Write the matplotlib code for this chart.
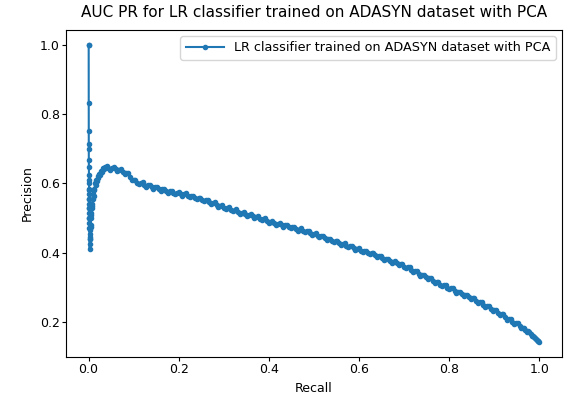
import matplotlib.pyplot as plt

# steep part of the curve at very low recall
spike_recall = [0.0, 0.0003, 0.0003, 0.0004, 0.0005, 0.0006, 0.0006, 0.0007, 0.0008, 0.0009,
                0.0010, 0.0011, 0.0012, 0.0012, 0.0013, 0.0014, 0.0015, 0.0015, 0.0016, 0.0017,
                0.0018, 0.0019, 0.0020, 0.0021, 0.0022, 0.0023, 0.0024, 0.0025, 0.0028, 0.0032,
                0.0036, 0.0040, 0.0045, 0.0050, 0.0055, 0.0060, 0.0065, 0.0070, 0.0076, 0.0082,
                0.0090, 0.0100, 0.0110, 0.0120, 0.0130, 0.0145, 0.0160, 0.0175, 0.0190, 0.0205,
                0.0220, 0.0240, 0.0260, 0.0280, 0.0300, 0.0320, 0.0340, 0.0360]
spike_precision = [1.0, 1.0, 0.833, 0.75, 0.714, 0.70, 0.667, 0.647, 0.625, 0.61,
                   0.60, 0.585, 0.57, 0.58, 0.555, 0.54, 0.555, 0.53, 0.515, 0.53,
                   0.50, 0.485, 0.50, 0.47, 0.455, 0.47, 0.44, 0.41, 0.425, 0.445,
                   0.44, 0.465, 0.48, 0.475, 0.50, 0.515, 0.51, 0.53, 0.54, 0.535,
                   0.555, 0.57, 0.565, 0.585, 0.58, 0.60, 0.595, 0.61, 0.607, 0.62,
                   0.616, 0.628, 0.625, 0.636, 0.634, 0.645, 0.641, 0.648]

# main body of the curve
curve_recall = [0.040, 0.044, 0.048, 0.052, 0.056, 0.060, 0.064, 0.068, 0.072, 0.076,
                0.080, 0.084, 0.088, 0.092, 0.096, 0.100, 0.104, 0.108, 0.112, 0.116,
                0.120, 0.124, 0.128, 0.132, 0.136, 0.140, 0.144, 0.148, 0.152, 0.156,
                0.160, 0.164, 0.168, 0.172, 0.176, 0.180, 0.184, 0.188, 0.192, 0.196,
                0.200, 0.204, 0.208, 0.212, 0.216, 0.220, 0.224, 0.228, 0.232, 0.236,
                0.240, 0.244, 0.248, 0.252, 0.256, 0.260, 0.264, 0.268, 0.272, 0.276,
                0.280, 0.284, 0.288, 0.292, 0.296, 0.300, 0.304, 0.308, 0.312, 0.316,
                0.320, 0.324, 0.328, 0.332, 0.336, 0.340, 0.344, 0.348, 0.352, 0.356,
                0.360, 0.364, 0.368, 0.372, 0.376, 0.380, 0.384, 0.388, 0.392, 0.396,
                0.400, 0.404, 0.408, 0.412, 0.416, 0.420, 0.424, 0.428, 0.432, 0.436,
                0.440, 0.444, 0.448, 0.452, 0.456, 0.460, 0.464, 0.468, 0.472, 0.476,
                0.480, 0.484, 0.488, 0.492, 0.496, 0.500, 0.504, 0.508, 0.512, 0.516,
                0.520, 0.524, 0.528, 0.532, 0.536, 0.540, 0.544, 0.548, 0.552, 0.556,
                0.560, 0.564, 0.568, 0.572, 0.576, 0.580, 0.584, 0.588, 0.592, 0.596,
                0.600, 0.604, 0.608, 0.612, 0.616, 0.620, 0.624, 0.628, 0.632, 0.636,
                0.640, 0.644, 0.648, 0.652, 0.656, 0.660, 0.664, 0.668, 0.672, 0.676,
                0.680, 0.684, 0.688, 0.692, 0.696, 0.700, 0.704, 0.708, 0.712, 0.716,
                0.720, 0.724, 0.728, 0.732, 0.736, 0.740, 0.744, 0.748, 0.752, 0.756,
                0.760, 0.764, 0.768, 0.772, 0.776, 0.780, 0.784, 0.788, 0.792, 0.796,
                0.800, 0.804, 0.808, 0.812, 0.816, 0.820, 0.824, 0.828, 0.832, 0.836,
                0.840, 0.844, 0.848, 0.852, 0.856, 0.860, 0.864, 0.868, 0.872, 0.876,
                0.880, 0.884, 0.888, 0.892, 0.896, 0.900, 0.904, 0.908, 0.912, 0.916,
                0.920, 0.924, 0.928, 0.932, 0.936, 0.940, 0.944, 0.948, 0.952, 0.956,
                0.960, 0.963, 0.966, 0.969, 0.972, 0.975, 0.978, 0.981, 0.984, 0.986,
                0.988, 0.990, 0.992, 0.994, 0.996, 0.998, 1.000]
curve_precision = [0.650, 0.644, 0.640, 0.645, 0.646, 0.641, 0.637, 0.640, 0.641, 0.633,
                   0.628, 0.631, 0.630, 0.619, 0.610, 0.611, 0.610, 0.602, 0.598, 0.602,
                   0.603, 0.595, 0.591, 0.594, 0.596, 0.589, 0.585, 0.589, 0.590, 0.583,
                   0.579, 0.583, 0.584, 0.577, 0.573, 0.577, 0.578, 0.572, 0.569, 0.573,
                   0.575, 0.569, 0.565, 0.569, 0.571, 0.565, 0.561, 0.564, 0.565, 0.558,
                   0.554, 0.557, 0.558, 0.552, 0.548, 0.551, 0.552, 0.545, 0.541, 0.544,
                   0.545, 0.538, 0.533, 0.536, 0.537, 0.530, 0.526, 0.529, 0.531, 0.524,
                   0.520, 0.523, 0.525, 0.518, 0.513, 0.516, 0.518, 0.511, 0.507, 0.510,
                   0.512, 0.505, 0.501, 0.504, 0.505, 0.498, 0.494, 0.497, 0.499, 0.491,
                   0.487, 0.490, 0.491, 0.485, 0.481, 0.484, 0.486, 0.479, 0.475, 0.479,
                   0.481, 0.474, 0.470, 0.473, 0.475, 0.468, 0.464, 0.467, 0.470, 0.463,
                   0.459, 0.462, 0.463, 0.456, 0.451, 0.454, 0.456, 0.449, 0.444, 0.447,
                   0.449, 0.442, 0.437, 0.440, 0.441, 0.434, 0.430, 0.433, 0.434, 0.427,
                   0.423, 0.426, 0.427, 0.420, 0.416, 0.419, 0.420, 0.413, 0.409, 0.412,
                   0.413, 0.406, 0.402, 0.405, 0.406, 0.399, 0.395, 0.398, 0.399, 0.392,
                   0.387, 0.390, 0.391, 0.384, 0.379, 0.382, 0.383, 0.376, 0.371, 0.374,
                   0.376, 0.369, 0.364, 0.367, 0.368, 0.360, 0.355, 0.358, 0.358, 0.350,
                   0.344, 0.347, 0.347, 0.339, 0.334, 0.337, 0.337, 0.329, 0.323, 0.326,
                   0.326, 0.318, 0.313, 0.316, 0.316, 0.308, 0.303, 0.306, 0.307, 0.299,
                   0.294, 0.297, 0.297, 0.290, 0.285, 0.288, 0.288, 0.280, 0.275, 0.278,
                   0.279, 0.271, 0.266, 0.269, 0.268, 0.260, 0.254, 0.257, 0.257, 0.249,
                   0.243, 0.246, 0.245, 0.237, 0.231, 0.234, 0.234, 0.226, 0.220, 0.223,
                   0.222, 0.214, 0.207, 0.210, 0.209, 0.201, 0.194, 0.197, 0.196, 0.188,
                   0.182, 0.184, 0.183, 0.176, 0.171, 0.173, 0.172, 0.165, 0.159, 0.160,
                   0.158, 0.153, 0.150, 0.149, 0.146, 0.144, 0.142]

recall = spike_recall + curve_recall
precision = spike_precision + curve_precision

name = 'LR classifier trained on ADASYN dataset with PCA'

fig = plt.figure(figsize=(5.72, 3.96), dpi=100)
ax = fig.add_axes([0.1154, 0.0985, 0.867, 0.826])
ax.plot(recall, precision, marker='.', label=name)
ax.set_title('AUC PR for ' + name, fontsize=11, pad=9)
ax.set_xlabel('Recall', fontsize=9)
ax.set_ylabel('Precision', fontsize=9)
ax.tick_params(labelsize=9, length=3, pad=1.5)
ax.legend(loc='upper right', fontsize=9.2, handlelength=3)
fig.savefig('out.png', dpi=100)
